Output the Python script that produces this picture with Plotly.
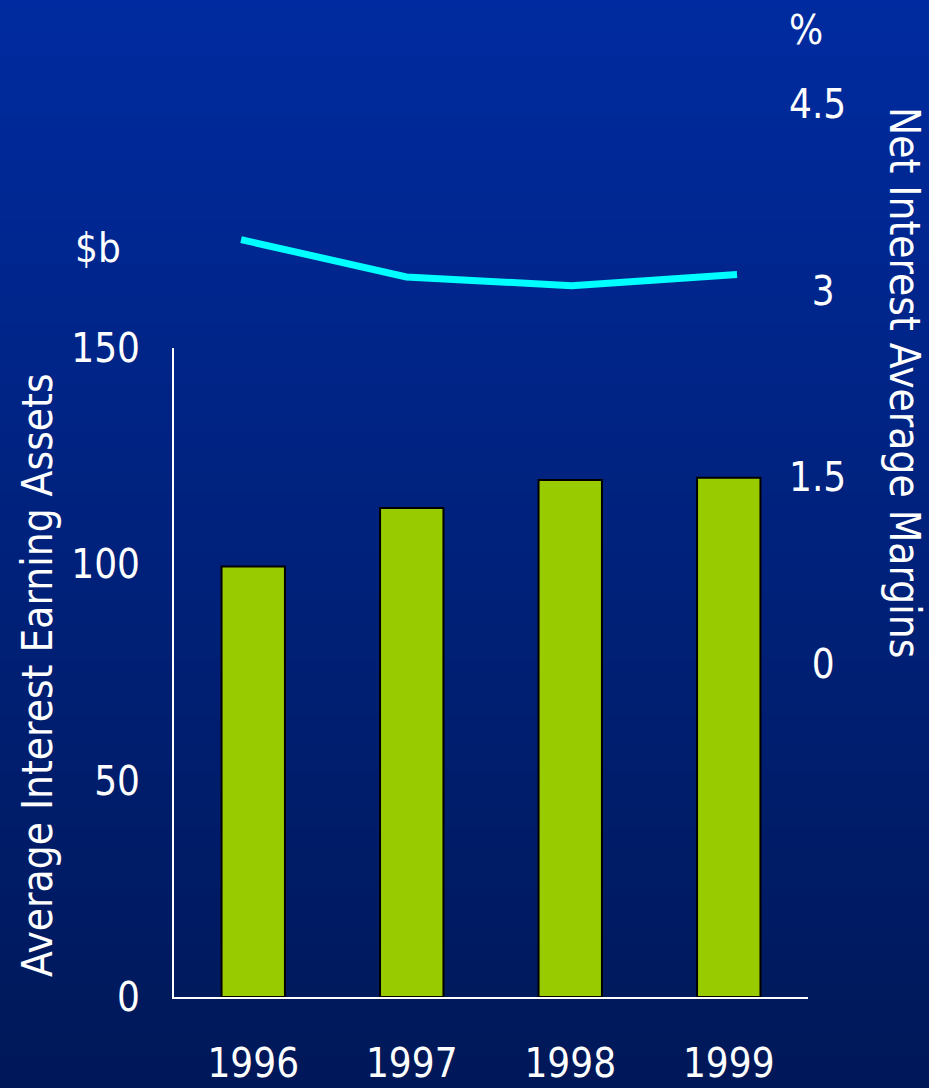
import plotly.graph_objects as go

# Data
years = ["1996", "1997", "1998", "1999"]
earning_assets = [99.5, 113.0, 119.5, 120.0]      # $b, left axis
net_interest_margin = [3.41, 3.11, 3.04, 3.13]    # %, right axis
left_ticks = [0, 50, 100, 150]
right_ticks = [0, 1.5, 3, 4.5]
right_tick_text = ["\u00a0\u00a00", "1.5", "\u00a0\u00a03", "4.5"]

W, H = 929, 1088
FONT = "DejaVu Sans Condensed, Liberation Sans Narrow, sans-serif"
WHITE = "#ffffff"


def px_x(p):
    return p / W


def px_y(p):
    return 1 - p / H


fig = go.Figure()

fig.add_trace(go.Bar(
    x=years, y=earning_assets, xaxis="x", yaxis="y",
    width=0.4,
    marker=dict(color="#99cc00", line=dict(color="#000000", width=2)),
    hoverinfo="x+y",
))

fig.add_trace(go.Scatter(
    x=years, y=net_interest_margin, xaxis="x2", yaxis="y2",
    mode="lines",
    line=dict(color="#00ffff", width=7),
    cliponaxis=False,
))

# vertical background gradient built from thin bands
top = (0, 43, 160)
bottom = (0, 24, 88)
bands = 272
shapes = []
for i in range(bands):
    t = i / (bands - 1)
    c = tuple(round(top[k] + (bottom[k] - top[k]) * t) for k in range(3))
    shapes.append(dict(
        type="rect", xref="paper", yref="paper", layer="below",
        x0=0, x1=1, y0=1 - (i + 1) / bands, y1=1 - i / bands + 0.001,
        fillcolor="rgb(%d,%d,%d)" % c, line=dict(width=0),
    ))

tick_font = dict(family=FONT, size=40, color=WHITE)
title_font = dict(family=FONT, size=42, color=WHITE)

fig.update_layout(
    width=W, height=H,
    margin=dict(l=0, r=0, t=0, b=0, autoexpand=False),
    paper_bgcolor="rgb(0,33,122)",
    plot_bgcolor="rgba(0,0,0,0)",
    showlegend=False,
    shapes=shapes,
    xaxis=dict(
        domain=[px_x(174), px_x(808)], anchor="y",
        type="category", range=[-0.5, 3.5], automargin=False,
        showline=True, linecolor=WHITE, linewidth=2,
        showgrid=False, zeroline=False, ticks="",
        tickfont=tick_font, ticklabelstandoff=30,
    ),
    yaxis=dict(
        domain=[px_y(997), px_y(348)], anchor="x",
        range=[0, 150], tickvals=left_ticks, automargin=False,
        showline=True, linecolor=WHITE, linewidth=2,
        showgrid=False, zeroline=False, ticks="",
        tickfont=tick_font, ticklabelstandoff=24,
    ),
    xaxis2=dict(
        domain=[px_x(158.4), px_x(819.7)], anchor="y2",
        type="category", range=[-0.5, 3.5], visible=False, automargin=False,
    ),
    yaxis2=dict(
        domain=[px_y(664), px_y(104)], anchor="free", position=px_x(788),
        side="right", range=[0, 4.5], automargin=False,
        tickvals=right_ticks, ticktext=right_tick_text,
        showline=False, showgrid=False, zeroline=False, ticks="",
        tickfont=tick_font,
    ),
    annotations=[
        dict(text="Average Interest Earning Assets", xref="paper", yref="paper",
             x=px_x(37), y=px_y(675), textangle=-90, showarrow=False,
             xanchor="center", yanchor="middle", font=title_font),
        dict(text="Net Interest Average Margins", xref="paper", yref="paper",
             x=px_x(905), y=px_y(382), textangle=90, showarrow=False,
             xanchor="center", yanchor="middle", font=title_font),
        dict(text="$b", xref="paper", yref="paper",
             x=px_x(98), y=px_y(248), showarrow=False,
             xanchor="center", yanchor="middle", font=tick_font),
        dict(text="%", xref="paper", yref="paper",
             x=px_x(806), y=px_y(30), showarrow=False,
             xanchor="center", yanchor="middle", font=tick_font),
    ],
)

fig.write_html("out.html")
